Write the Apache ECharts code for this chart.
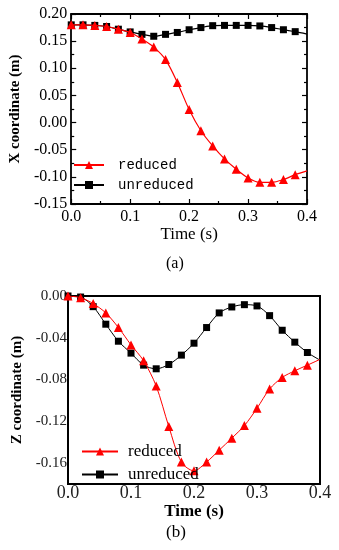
<!DOCTYPE html>
<html><head><meta charset="utf-8">
<script src="https://cdn.jsdelivr.net/npm/echarts@6/dist/echarts.min.js"></script>
<style>html,body{margin:0;padding:0;background:#fff}#c{width:339px;height:550px}</style>
</head><body><div id="c"></div>
<script>
// time samples (s)
const timeA = [0,0.02,0.04,0.06,0.08,0.10,0.12,0.14,0.16,0.18,0.20,0.22,0.24,0.26,0.28,0.30,0.32,0.34,0.36,0.38,0.40];
// (a) X coordinate (m)
const xReduced   = [0.180,0.180,0.179,0.177,0.172,0.166,0.154,0.139,0.116,0.074,0.024,-0.015,-0.043,-0.067,-0.086,-0.102,-0.110,-0.110,-0.105,-0.096,-0.089];
const xUnreduced = [0.180,0.180,0.179,0.177,0.172,0.167,0.1625,0.159,0.1625,0.166,0.171,0.175,0.1785,0.179,0.179,0.179,0.178,0.175,0.171,0.1675,0.163];
// (b) Z coordinate (m)
const zReduced   = [0,-0.0016,-0.0073,-0.0162,-0.0302,-0.0468,-0.062,-0.0862,-0.125,-0.159,-0.1674,-0.159,-0.1476,-0.1361,-0.1241,-0.1075,-0.0891,-0.078,-0.0716,-0.0662,-0.0607];
const zUnreduced = [0,-0.001,-0.0102,-0.027,-0.0433,-0.0547,-0.0662,-0.0697,-0.0656,-0.0566,-0.0452,-0.0302,-0.0162,-0.0105,-0.0083,-0.0095,-0.0188,-0.0328,-0.0442,-0.0541,-0.0614];
const seriesNames = ['reduced','unreduced'];

function pts(t, v){
  return t.map((x,i)=> i===t.length-1 ? {value:[x,v[i]], symbol:'none'} : [x,v[i]]);
}
const serif = 'Liberation Serif, Times New Roman, serif';
const tickA = {show:true, inside:true, length:5, lineStyle:{color:'#000', width:1.2}};
const minorA = {show:true, splitNumber:2, length:3, lineStyle:{color:'#000', width:1.2}};
const lineA = {show:true, onZero:false, lineStyle:{color:'#000', width:1.8}};
const lineB = {show:true, onZero:false, lineStyle:{color:'#000', width:2}};

const chart = echarts.init(document.getElementById('c'), null, {renderer:'canvas'});
chart.setOption({
  animation:false,
  backgroundColor:'#fff',
  grid:[
    {left:58, top:14, width:249, height:190, show:false},
    {left:68, top:296, width:252, height:188, show:true, borderColor:'#000', borderWidth:2, backgroundColor:'transparent'}
  ],
  xAxis:[
    {gridIndex:0, type:'value', min:0, max:0.4, interval:0.1, position:'bottom',
     name:'Time (s)', nameLocation:'middle', nameGap:22,
     nameTextStyle:{fontFamily:serif, fontSize:17, color:'#000'},
     axisLine:lineA, axisTick:tickA, minorTick:minorA, splitLine:{show:false},
     axisLabel:{fontFamily:serif, fontSize:16, color:'#000', margin:5, formatter:v=>v.toFixed(1)}},
    {gridIndex:0, type:'value', min:0, max:0.4, interval:0.1, position:'top',
     axisLine:lineA, axisTick:tickA, minorTick:minorA, splitLine:{show:false}, axisLabel:{show:false}},
    {gridIndex:1, type:'value', min:0, max:0.4, interval:0.1, position:'bottom',
     name:'Time (s)', nameLocation:'middle', nameGap:14,
     nameTextStyle:{fontFamily:serif, fontSize:17, fontWeight:'bold', color:'#000'},
     axisLine:lineB, axisTick:{show:false}, splitLine:{show:false},
     axisLabel:{fontFamily:serif, fontSize:18, color:'#222', margin:0, formatter:v=>v.toFixed(1)}}
  ],
  yAxis:[
    {gridIndex:0, type:'value', min:-0.15, max:0.20, interval:0.05, position:'left',
     name:'X coordinate (m)', nameLocation:'middle', nameGap:37,
     nameTextStyle:{fontFamily:serif, fontSize:15, fontWeight:'bold', color:'#000'},
     axisLine:lineA, axisTick:tickA, minorTick:minorA, splitLine:{show:false},
     axisLabel:{fontFamily:serif, fontSize:16, color:'#000', margin:4, formatter:v=>v.toFixed(2)}},
    {gridIndex:0, type:'value', min:-0.15, max:0.20, interval:0.05, position:'right',
     axisLine:lineA, axisTick:tickA, minorTick:minorA, splitLine:{show:false}, axisLabel:{show:false}},
    {gridIndex:1, type:'value', min:-0.18, max:0, interval:0.02, position:'left',
     name:'Z coordinate (m)', nameLocation:'middle', nameGap:33,
     nameTextStyle:{fontFamily:serif, fontSize:15, fontWeight:'bold', color:'#000'},
     axisLine:lineB, axisTick:{show:false}, splitLine:{show:false},
     axisLabel:{fontFamily:serif, fontSize:15, color:'#222', margin:1,
       formatter:v=>{const k=Math.round(v/0.02); return (k%2===0)? v.toFixed(2) : '';}}}
  ],
  legend:[
    {orient:'vertical', left:68, top:153, itemWidth:30, itemHeight:10, itemGap:6,
     data:seriesNames, selectedMode:false,
     textStyle:{fontFamily:'Liberation Mono, Courier New, monospace', fontSize:14, color:'#000', padding:[0,0,0,9]}},
    {orient:'vertical', left:76, top:438, itemWidth:36, itemHeight:10, itemGap:6,
     data:seriesNames, selectedMode:false,
     textStyle:{fontFamily:serif, fontSize:17, color:'#000', padding:[0,0,0,5]}}
  ],
  graphic:[
    {type:'text', left:166, top:256, style:{text:'(a)', font:'16px '+serif, fill:'#000'}},
    {type:'text', left:166, top:524, style:{text:'(b)', font:'17px '+serif, fill:'#000'}}
  ],
  series:[
    {name:seriesNames[0], type:'line', xAxisIndex:0, yAxisIndex:0, data:pts(timeA,xReduced), smooth:0.3,
     symbol:'triangle', symbolSize:9, z:3, lineStyle:{color:'#ff0000', width:1.2}, itemStyle:{color:'#ff0000'}},
    {name:seriesNames[1], type:'line', xAxisIndex:0, yAxisIndex:0, data:pts(timeA,xUnreduced), smooth:0.3,
     symbol:'rect', symbolSize:7, z:2, lineStyle:{color:'#000', width:1.2}, itemStyle:{color:'#000'}},
    {name:seriesNames[0], type:'line', xAxisIndex:2, yAxisIndex:2, data:pts(timeA,zReduced), smooth:0.3,
     symbol:'triangle', symbolSize:9, z:3, lineStyle:{color:'#ff0000', width:1}, itemStyle:{color:'#ff0000'}},
    {name:seriesNames[1], type:'line', xAxisIndex:2, yAxisIndex:2, data:pts(timeA,zUnreduced), smooth:0.3,
     symbol:'rect', symbolSize:7, z:2, lineStyle:{color:'#000', width:1}, itemStyle:{color:'#000'}}
  ]
});
</script></body></html>
